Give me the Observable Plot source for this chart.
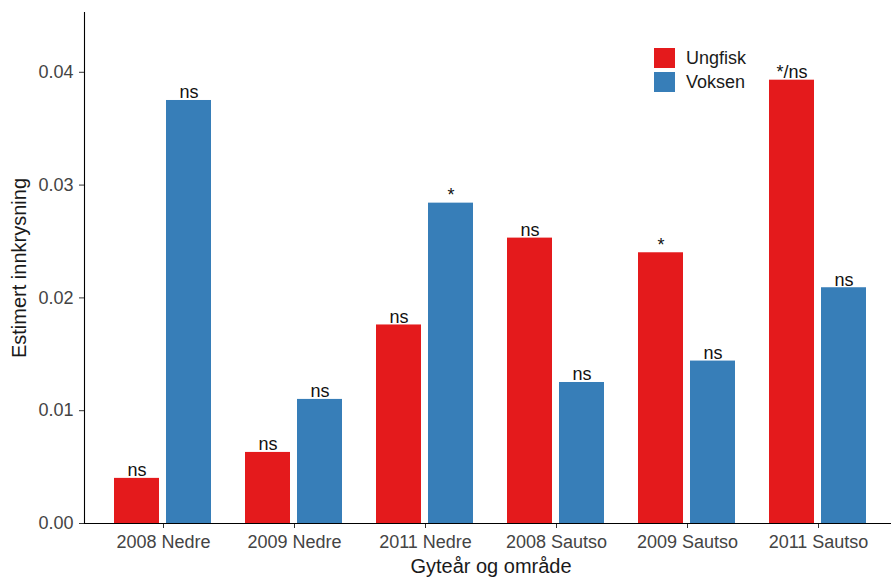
<!DOCTYPE html>
<html>
<head>
<meta charset="utf-8">
<script src="https://cdn.jsdelivr.net/npm/d3@7"></script>
<script src="https://cdn.jsdelivr.net/npm/@observablehq/plot@0.6"></script>
<style>
  body { margin: 0; background: #fff; font-family: "Liberation Sans", Arial, sans-serif; }
  #wrap { position: relative; width: 891px; height: 579px; }
  #legend { position: absolute; left: 654px; top: 48px; font-size: 18px; color: #1a1a1a; }
  .item { display: flex; align-items: center; height: 20px; margin-bottom: 4px; }
  .sw { width: 21px; height: 20px; margin-right: 11px; }
</style>
</head>
<body>
<div id="wrap"></div>
<script>
const groups = ["2008 Nedre", "2009 Nedre", "2011 Nedre", "2008 Sautso", "2009 Sautso", "2011 Sautso"];
const series = ["Ungfisk", "Voksen"];
const ungfisk = [0.0040, 0.0063, 0.0176, 0.0253, 0.0240, 0.0393];
const voksen = [0.0375, 0.0110, 0.0284, 0.0125, 0.0144, 0.0209];
const ungfiskSig = ["ns", "ns", "ns", "ns", "*", "*/ns"];
const voksenSig = ["ns", "ns", "*", "ns", "ns", "ns"];
const yTicks = [0, 0.01, 0.02, 0.03, 0.04];
const colors = ["#E41A1C", "#377EB8"];

const rows = [];
groups.forEach((g, i) => {
  rows.push({group: g, series: series[0], value: ungfisk[i], sig: ungfiskSig[i]});
  rows.push({group: g, series: series[1], value: voksen[i], sig: voksenSig[i]});
});

// category axis padding (the panel is cut a little on the right, as in the source)
const fxPadOuter = 0.2017, fxPadInner = 0.254, fxAlign = 0.566;
const plotW = 891 - 83;
const step = plotW / (groups.length - fxPadInner + 2 * fxPadOuter);
const outerL = step * fxPadOuter * 2 * fxAlign;
const outerR = step * fxPadOuter * 2 * (1 - fxAlign);

const chart = Plot.plot({
  width: 891,
  height: 579,
  marginLeft: 83,
  marginRight: 0,
  marginTop: 12,
  marginBottom: 56,
  style: {fontFamily: "'Liberation Sans', Arial, sans-serif", fontSize: "18px", color: "#444", background: "white"},
  fx: {domain: groups, paddingInner: fxPadInner, paddingOuter: fxPadOuter, align: fxAlign},
  x: {domain: series, paddingInner: 0.13, paddingOuter: 0, axis: null},
  y: {domain: [0, 0.0453]},
  color: {domain: series, range: colors},
  marks: [
    Plot.barY(rows, {fx: "group", x: "series", y: "value", fill: "series"}),
    Plot.text(rows, {fx: "group", x: "series", y: "value", text: "sig", lineAnchor: "bottom", dy: -2, fontSize: 18, fill: "#111"}),
    Plot.axisY({ticks: yTicks, tickFormat: d3.format(".2f"), tickSize: 5, tickPadding: 6, stroke: "#333", fill: "#444",
      dx: -outerL, label: "Estimert innkrysning", labelAnchor: "center", labelOffset: 73 + outerL, labelArrow: "none"}),
    Plot.axisFx({anchor: "bottom", tickSize: 5, tickPadding: 7, stroke: "#333", fill: "#444",
      label: "Gyteår og område", labelAnchor: "center", labelOffset: 49, labelArrow: "none"}),
    Plot.frame({facet: "super", anchor: "bottom", stroke: "#000", strokeWidth: 1.1, insetLeft: -outerL, insetRight: -outerR}),
    Plot.frame({facet: "super", anchor: "left", stroke: "#000", strokeWidth: 1.1, insetLeft: -outerL})
  ]
});
const wrap = document.getElementById("wrap");
wrap.appendChild(chart);
d3.select(chart).selectAll("[aria-label='y-axis label'] text, [aria-label='fx-axis label'] text, [aria-label='y-axis label'], [aria-label='fx-axis label']")
  .style("font-size", "20px").style("fill", "#1a1a1a");

const legend = document.createElement("div");
legend.id = "legend";
series.forEach((s, i) => {
  const item = document.createElement("div");
  item.className = "item";
  const sw = document.createElement("div");
  sw.className = "sw";
  sw.style.background = colors[i];
  const t = document.createElement("span");
  t.textContent = s;
  item.appendChild(sw);
  item.appendChild(t);
  legend.appendChild(item);
});
wrap.appendChild(legend);
</script>
</body>
</html>
